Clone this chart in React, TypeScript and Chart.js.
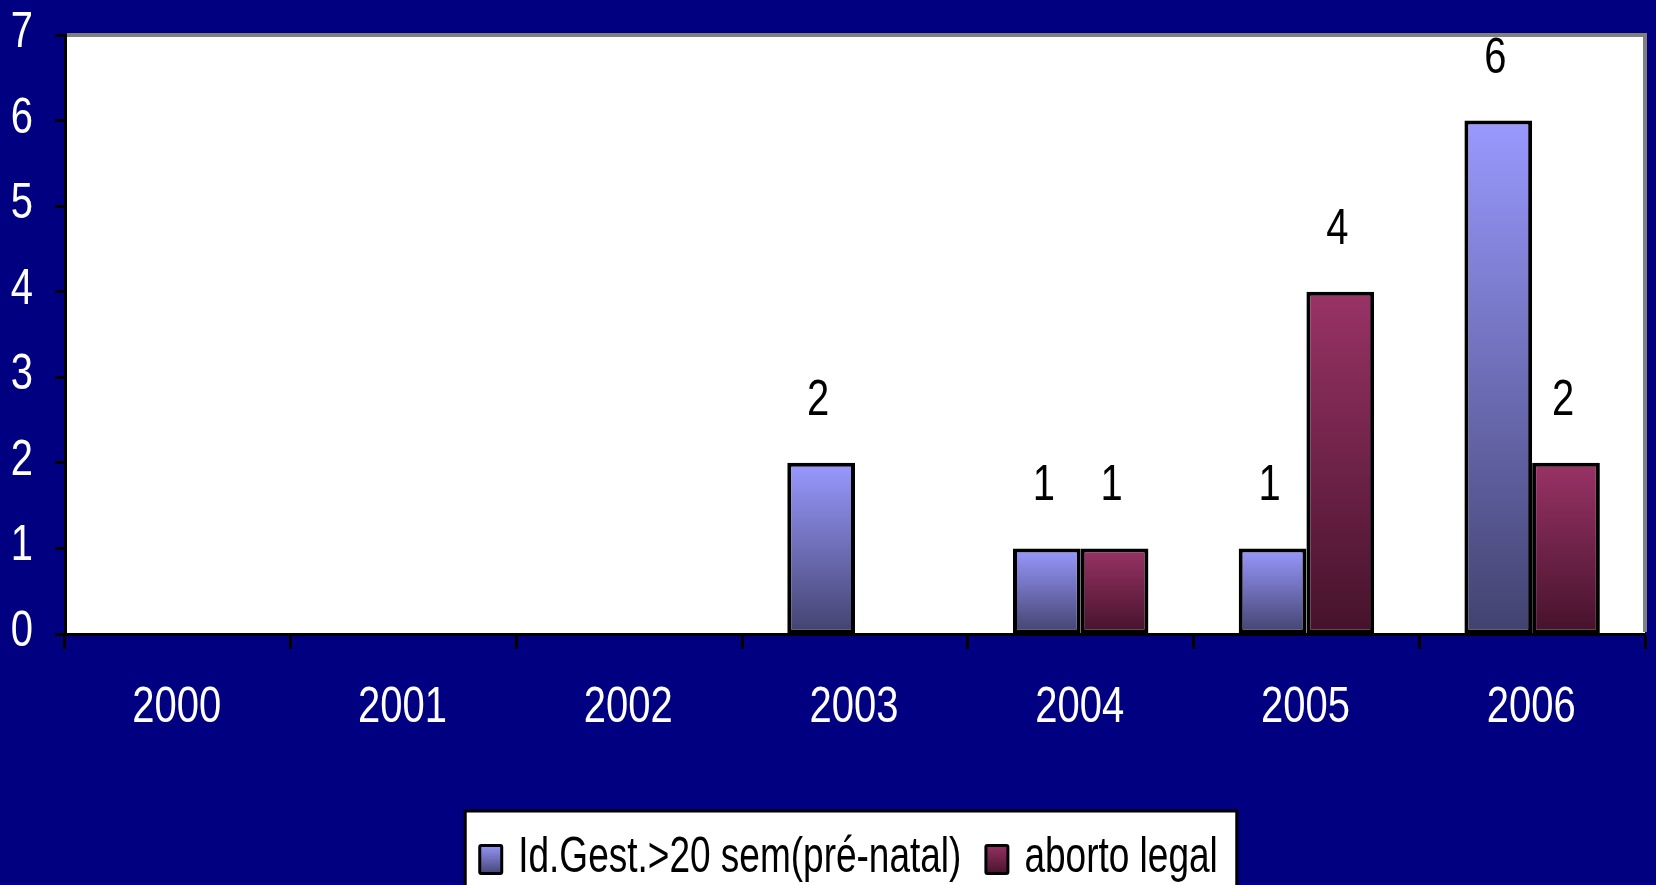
import React, { useEffect, useRef } from "react";
import { Chart, registerables } from "chart.js";

Chart.register(...registerables);

const categories = ["2000", "2001", "2002", "2003", "2004", "2005", "2006"];
const seriesNames = ["Id.Gest.>20 sem(pré-natal)", "aborto legal"];
const prenatalValues = [0, 0, 0, 2, 1, 1, 6];
const abortoValues = [0, 0, 0, 0, 1, 4, 2];
const yTicks = [0, 1, 2, 3, 4, 5, 6, 7];

const FONT = "'Liberation Sans', Arial, sans-serif";
const NARROW = 0.8;
const LEGEND_NARROW = 0.74;
const NAVY = "#000080";
const BLUE_TOP = "#9999FF";
const BLUE_BOTTOM = "#42426F";
const RED_TOP = "#993366";
const RED_BOTTOM = "#45122B";

function gradientFill(top: string, bottom: string) {
  return (ctx: any) => {
    const chart = ctx.chart;
    if (ctx.type !== "data") return top;
    const y = chart.scales && chart.scales.y;
    const v = ctx.raw;
    if (!y || typeof v !== "number") return top;
    const yTop = y.getPixelForValue(v);
    const yBot = y.getPixelForValue(0);
    if (!isFinite(yTop) || !isFinite(yBot) || yTop === yBot) return top;
    const g = chart.ctx.createLinearGradient(0, yTop, 0, yBot);
    g.addColorStop(0, top);
    g.addColorStop(1, bottom);
    return g;
  };
}

function narrowText(
  ctx: CanvasRenderingContext2D,
  text: string,
  x: number,
  y: number,
  align: "left" | "center" | "right",
  factor: number = NARROW
) {
  const w = ctx.measureText(text).width * factor;
  let left = x;
  if (align === "center") left = x - w / 2;
  else if (align === "right") left = x - w;
  ctx.save();
  ctx.translate(left, y);
  ctx.scale(factor, 1);
  ctx.textAlign = "left";
  ctx.textBaseline = "alphabetic";
  ctx.fillText(text, 0, 0);
  ctx.restore();
}

const backgroundPlugin = {
  id: "bgPlugin",
  beforeDraw(chart: any) {
    const { ctx, chartArea, width, height } = chart;
    ctx.save();
    ctx.fillStyle = NAVY;
    ctx.fillRect(0, 0, width, height);
    ctx.fillStyle = "#FFFFFF";
    ctx.fillRect(chartArea.left, chartArea.top, chartArea.right - chartArea.left, chartArea.bottom - chartArea.top);
    ctx.restore();
  },
  afterDraw(chart: any) {
    const { ctx, chartArea } = chart;
    ctx.save();
    ctx.strokeStyle = "#808080";
    ctx.lineWidth = 4;
    ctx.beginPath();
    ctx.moveTo(chartArea.left + 2, chartArea.top);
    ctx.lineTo(chartArea.right, chartArea.top);
    ctx.lineTo(chartArea.right, chartArea.bottom - 2);
    ctx.stroke();
    ctx.restore();
  },
};

const axisLabelPlugin = {
  id: "axisLabels",
  afterDraw(chart: any) {
    const ctx = chart.ctx;
    const xs = chart.scales.x;
    const ys = chart.scales.y;
    ctx.save();
    ctx.font = `50px ${FONT}`;
    ctx.fillStyle = "#FFFFFF";
    ys.ticks.forEach((t: any, i: number) => {
      const py = ys.getPixelForTick(i);
      narrowText(ctx, String(t.value), 33, py + 12, "right");
    });
    chart.data.labels.forEach((lab: string, i: number) => {
      const px = xs.getPixelForTick(i);
      narrowText(ctx, lab, px - 1, 722, "center");
    });
    ctx.restore();
  },
};

const valueLabelPlugin = {
  id: "valueLabels",
  afterDatasetsDraw(chart: any) {
    const ctx = chart.ctx;
    ctx.save();
    ctx.font = `50px ${FONT}`;
    ctx.fillStyle = "#000000";
    chart.data.datasets.forEach((ds: any, i: number) => {
      const meta = chart.getDatasetMeta(i);
      meta.data.forEach((el: any, j: number) => {
        const v = ds.data[j];
        if (!v) return;
        narrowText(ctx, String(v), el.x - 3, el.y - 48, "center");
      });
    });
    ctx.restore();
  },
};

const legendPlugin = {
  id: "boxLegend",
  afterDraw(chart: any) {
    const { ctx, chartArea, height } = chart;
    ctx.save();
    ctx.font = `50px ${FONT}`;
    const markerW = 25;
    const markerH = 31;
    const gapMT = 15;
    const gapItems = 23;
    const padL = 13;
    const padR = 19;
    const items = chart.data.datasets.map((ds: any) => ({
      label: ds.label,
      top: ds.legendTop,
      bottom: ds.legendBottom,
      w: ctx.measureText(ds.label).width * LEGEND_NARROW,
    }));
    let content = 0;
    items.forEach((it: any, i: number) => {
      content += markerW + gapMT + it.w + (i < items.length - 1 ? gapItems : 0);
    });
    const boxW = content + padL + padR;
    const cx = (chartArea.left + chartArea.right) / 2 - 4;
    const boxL = cx - boxW / 2;
    const boxT = 811;
    ctx.fillStyle = "#FFFFFF";
    ctx.fillRect(boxL, boxT, boxW, height - boxT + 20);
    ctx.strokeStyle = "#000000";
    ctx.lineWidth = 3;
    ctx.strokeRect(boxL, boxT, boxW, height - boxT + 20);
    let x = boxL + padL;
    const baseline = 872;
    const mTop = 844;
    items.forEach((it: any) => {
      const g = ctx.createLinearGradient(0, mTop, 0, mTop + markerH);
      g.addColorStop(0, it.top);
      g.addColorStop(1, it.bottom);
      ctx.fillStyle = "#000000";
      ctx.beginPath();
      (ctx as any).roundRect(x, mTop, markerW, markerH, 3);
      ctx.fill();
      ctx.fillStyle = g;
      ctx.fillRect(x + 3, mTop + 3, markerW - 6, markerH - 6);
      ctx.fillStyle = "#000000";
      narrowText(ctx, it.label, x + markerW + gapMT, baseline, "left", LEGEND_NARROW);
      x += markerW + gapMT + it.w + gapItems;
    });
    ctx.restore();
  },
};

function ChartCanvas() {
  const ref = useRef<HTMLCanvasElement | null>(null);
  useEffect(() => {
    document.body.style.margin = "0";
    document.body.style.background = NAVY;
    let chart: any = null;
    let cancelled = false;
    const make = () => {
      if (cancelled || !ref.current) return;
      chart = new Chart(ref.current, {
        type: "bar",
        data: {
          labels: categories,
          datasets: [
            {
              label: seriesNames[0],
              data: prenatalValues,
              backgroundColor: gradientFill(BLUE_TOP, BLUE_BOTTOM),
              borderColor: "#000000",
              borderWidth: 4,
              borderSkipped: false,
              legendTop: BLUE_TOP,
              legendBottom: BLUE_BOTTOM,
            } as any,
            {
              label: seriesNames[1],
              data: abortoValues,
              backgroundColor: gradientFill(RED_TOP, RED_BOTTOM),
              borderColor: "#000000",
              borderWidth: 4,
              borderSkipped: false,
              legendTop: RED_TOP,
              legendBottom: RED_BOTTOM,
            } as any,
          ],
        },
        options: {
          animation: false,
          responsive: false,
          devicePixelRatio: 1,
          layout: { padding: { top: 35, right: 11, left: 0, bottom: 0 } },
          datasets: { bar: { categoryPercentage: 0.6, barPercentage: 1.0 } },
          plugins: {
            legend: { display: false },
            tooltip: { enabled: false },
            title: { display: false },
          },
          scales: {
            x: {
              grid: {
                display: true,
                drawOnChartArea: false,
                drawTicks: true,
                tickLength: 15,
                tickWidth: 3,
                tickColor: "#000000",
                offset: true,
              },
              border: { display: true, color: "#000000", width: 3 },
              ticks: { display: false, autoSkip: false, maxRotation: 0 },
              afterFit: (scale: any) => {
                scale.height = 251;
              },
            },
            y: {
              min: 0,
              max: 7,
              afterBuildTicks: (scale: any) => {
                scale.ticks = yTicks.map((v) => ({ value: v }));
              },
              grid: {
                display: true,
                drawOnChartArea: false,
                drawTicks: true,
                tickLength: 10,
                tickWidth: 3,
                tickColor: "#000000",
              },
              border: { display: true, color: "#000000", width: 3 },
              ticks: { display: false },
              afterFit: (scale: any) => {
                scale.width = 65;
              },
            },
          },
        },
        plugins: [backgroundPlugin, valueLabelPlugin, axisLabelPlugin, legendPlugin],
      } as any);
    };
    const fonts: any = (document as any).fonts;
    if (fonts && fonts.load) {
      fonts.load(`50px 'Liberation Sans'`).then(make, make);
    } else {
      make();
    }
    return () => {
      cancelled = true;
      if (chart) chart.destroy();
    };
  }, []);
  return <canvas ref={ref} width={1656} height={885} style={{ display: "block" }} />;
}

export default function App() {
  return (
    <div style={{ width: 1656, height: 885, background: NAVY, overflow: "hidden" }}>
      <ChartCanvas />
    </div>
  );
}
